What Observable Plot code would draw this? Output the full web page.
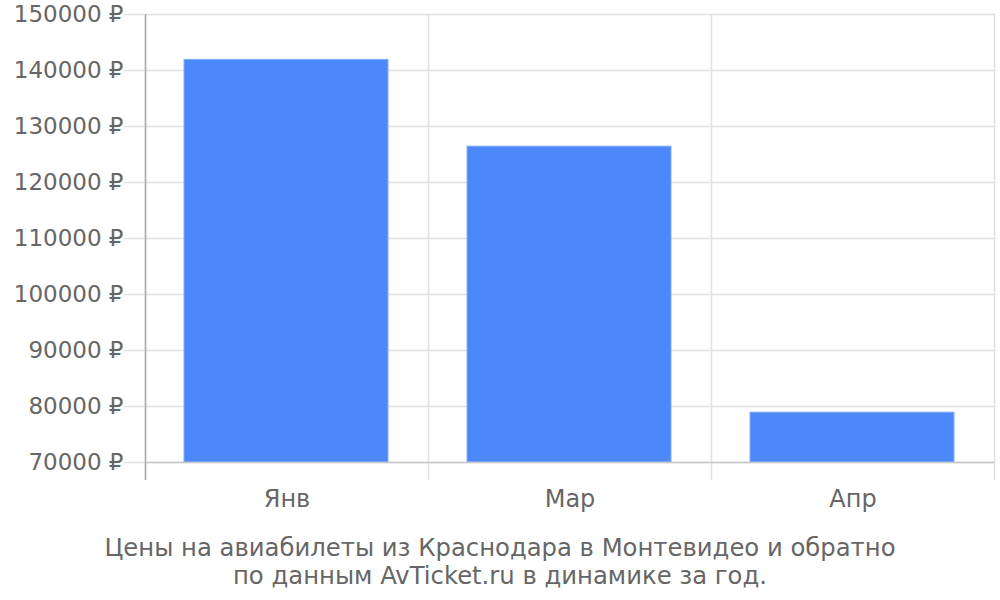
<!DOCTYPE html>
<html>
<head>
<meta charset="utf-8">
<script src="https://cdn.jsdelivr.net/npm/d3@7"></script>
<script src="https://cdn.jsdelivr.net/npm/@observablehq/plot@0.6"></script>
<style>
  body { margin: 0; background: white; }
  #caption { width: 1000px; text-align: center; font-family: "DejaVu Sans"; font-size: 24.3px; line-height: 28px; color: #666; margin-top: 4px; }
</style>
</head>
<body>
<div id="chart"></div>
<div id="caption">Цены на авиабилеты из Краснодара в Монтевидео и обратно<br>по данным AvTicket.ru в динамике за год.</div>
<script>
const months = ["Янв", "Мар", "Апр"];
const prices = [141900, 126400, 78900];
const yTicks = [70000, 80000, 90000, 100000, 110000, 120000, 130000, 140000, 150000];
const currency = "₽";

const data = months.map((m, i) => ({month: m, price: prices[i]}));

const W = 1000, H = 530, ML = 145, MR = 6, MT = 14, MB = 68;
const half = (W - ML - MR) / months.length / 2;
const yMin = yTicks[0], yMax = yTicks[yTicks.length - 1];

const chart = Plot.plot({
  width: W, height: H,
  marginTop: MT, marginLeft: ML, marginRight: MR, marginBottom: MB,
  style: {fontFamily: "DejaVu Sans", fontSize: "23px", color: "#666", background: "white"},
  x: {domain: months, padding: 0, label: null},
  y: {domain: [yMin, yMax], label: null},
  marks: [
    Plot.ruleY(yTicks, {stroke: "#e0e0e0", strokeWidth: 1.5, insetLeft: -21}),
    Plot.ruleX(months, {x: d => d, dx: -half, y1: yMax, y2: yMin, insetBottom: -18, stroke: "#e0e0e0", strokeWidth: 1.5}),
    Plot.ruleX(months.slice(-1), {x: d => d, dx: half, y1: yMax, y2: yMin, insetBottom: -18, stroke: "#e0e0e0", strokeWidth: 1.5}),
    Plot.barY(data, {x: "month", y1: yMin, y2: "price", fill: "#4c88f9", stroke: "#86adf8", strokeWidth: 1, insetLeft: 39, insetRight: 40}),
    Plot.ruleY([yMin], {stroke: "#c8c8c8", strokeWidth: 1.5}),
    Plot.ruleX(months.slice(0, 1), {x: d => d, dx: -half, y1: yMax, y2: yMin, insetBottom: -18, stroke: "#aaa", strokeWidth: 1.5}),
    Plot.axisY({ticks: yTicks, tickSize: 0, tickPadding: 22, label: null, tickFormat: d => d + " " + currency}),
    Plot.axisX({tickSize: 0, tickPadding: 27, label: null, fontSize: 24})
  ]
});
document.getElementById("chart").appendChild(chart);
</script>
</body>
</html>
